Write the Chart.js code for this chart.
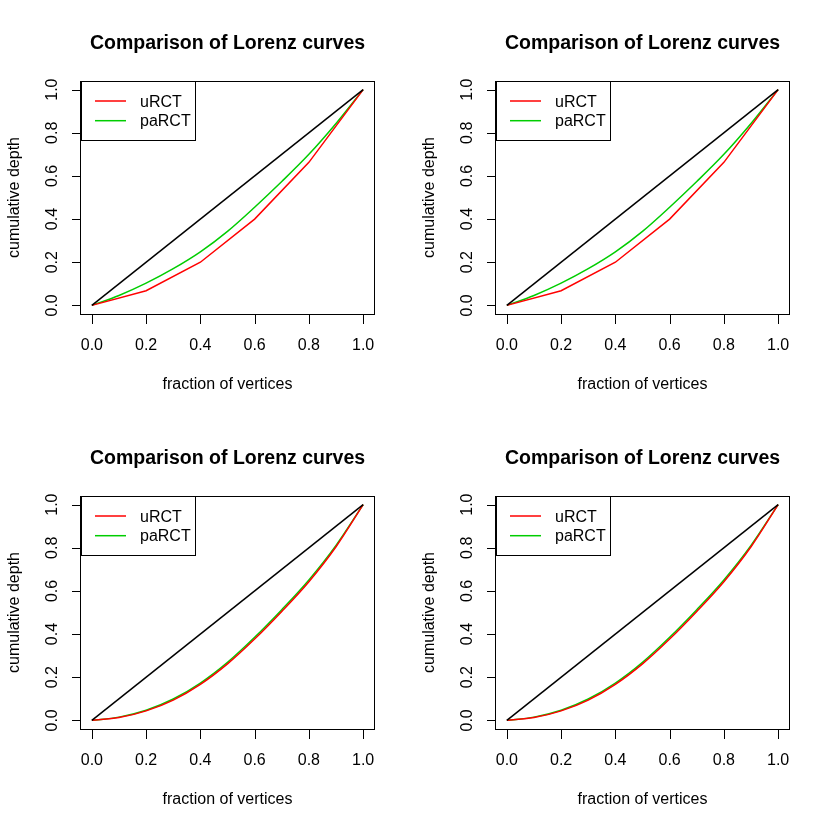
<!DOCTYPE html>
<html>
<head>
<meta charset="utf-8">
<script src="https://cdn.jsdelivr.net/npm/chart.js@4.4.1/dist/chart.umd.min.js"></script>
<style>
  html, body { margin: 0; padding: 0; background: #ffffff; }
  #wrap { position: relative; width: 830px; height: 830px; background: #ffffff; }
  canvas { position: absolute; }
</style>
</head>
<body>
<div id="wrap">
  <canvas id="p1" width="415" height="415" style="left:0px;top:0px"></canvas>
  <canvas id="p2" width="415" height="415" style="left:415px;top:0px"></canvas>
  <canvas id="p3" width="415" height="415" style="left:0px;top:415px"></canvas>
  <canvas id="p4" width="415" height="415" style="left:415px;top:415px"></canvas>
</div>
<script>
// ---- data ----
const chartTitle = "Comparison of Lorenz curves";
const xAxisTitle = "fraction of vertices";
const yAxisTitle = "cumulative depth";
const seriesNames = ["uRCT", "paRCT"];

const xTicks = [0, 0.2, 0.4, 0.6, 0.8, 1.0];
const yTicks = [0, 0.2, 0.4, 0.6, 0.8, 1.0];
const tickLabels = ["0.0", "0.2", "0.4", "0.6", "0.8", "1.0"];

const equalityX = [0, 1];
const equalityY = [0, 1];

// top row panels
const topRedX   = [0, 0.2, 0.4, 0.6, 0.8, 1.0];
const topRedY   = [0, 0.068, 0.200, 0.400, 0.663, 1.0];
const topGreenX = [0, 0.1, 0.2, 0.3, 0.4, 0.5, 0.6, 0.7, 0.8, 0.9, 1.0];
const topGreenY = [0, 0.046, 0.103, 0.170, 0.248, 0.343, 0.455, 0.574, 0.700, 0.843, 1.0];

// bottom row panels
const botX      = [0, 0.1, 0.2, 0.3, 0.4, 0.5, 0.6, 0.7, 0.8, 0.9, 1.0];
const botRedY   = [0, 0.013, 0.044, 0.094, 0.167, 0.262, 0.377, 0.505, 0.643, 0.805, 1.0];
const botGreenY = [0, 0.015, 0.047, 0.099, 0.173, 0.269, 0.385, 0.513, 0.651, 0.811, 1.0];

const RED = "#FF0000";
const GREEN = "#00CD00";
const FONT = '"Liberation Sans", Arial, Helvetica, sans-serif';

function pts(xs, ys) { return xs.map((x, i) => ({ x: x, y: ys[i] })); }

const rDecor = {
  id: "rDecor",
  afterDraw(chart) {
    const ctx = chart.ctx;
    const a = chart.chartArea;
    const xs = chart.scales.x, ys = chart.scales.y;
    ctx.save();
    ctx.fillStyle = "#000";
    ctx.strokeStyle = "#000";
    ctx.lineWidth = 1;

    // legend box (top-left of plot area)
    const lx0 = a.left, ly0 = a.top, lx1 = 195, ly1 = 140;
    ctx.fillStyle = "#fff";
    ctx.fillRect(lx0, ly0, lx1 - lx0, ly1 - ly0);
    ctx.strokeStyle = "#000";
    ctx.strokeRect(lx0 + 0.5, ly0 + 0.5, lx1 - lx0, ly1 - ly0);
    const legendRows = [[seriesNames[0], RED, 101], [seriesNames[1], GREEN, 120.7]];
    ctx.font = "16px " + FONT;
    ctx.textAlign = "left";
    ctx.textBaseline = "alphabetic";
    legendRows.forEach(r => {
      ctx.strokeStyle = r[1];
      ctx.lineWidth = 1.5;
      ctx.beginPath();
      ctx.moveTo(95, r[2]);
      ctx.lineTo(126, r[2]);
      ctx.stroke();
      ctx.fillStyle = "#000";
      ctx.fillText(r[0], 140, r[2] + 5.7);
    });

    // plot box
    ctx.strokeStyle = "#000";
    ctx.lineWidth = 1;
    ctx.strokeRect(Math.round(a.left) - 0.5, Math.round(a.top) + 0.5,
                   Math.round(a.right) - Math.round(a.left) + 1, Math.round(a.bottom) - Math.round(a.top));

    // x ticks + labels
    ctx.font = "16px " + FONT;
    ctx.fillStyle = "#000";
    ctx.textAlign = "center";
    ctx.textBaseline = "alphabetic";
    xTicks.forEach((v, i) => {
      const x = Math.round(xs.getPixelForValue(v)) + 0.5;
      ctx.beginPath();
      ctx.moveTo(x, a.bottom + 1);
      ctx.lineTo(x, a.bottom + 10);
      ctx.stroke();
      ctx.fillText(tickLabels[i], xs.getPixelForValue(v), 350);
    });
    // y ticks + rotated labels
    yTicks.forEach((v, i) => {
      const y = Math.round(ys.getPixelForValue(v)) + 0.5;
      ctx.beginPath();
      ctx.moveTo(a.left - 9, y);
      ctx.lineTo(a.left, y);
      ctx.stroke();
      ctx.save();
      ctx.translate(57.3, ys.getPixelForValue(v));
      ctx.rotate(-Math.PI / 2);
      ctx.fillText(tickLabels[i], 0, 0);
      ctx.restore();
    });

    // axis titles
    ctx.fillText(xAxisTitle, (a.left + a.right) / 2, 389);
    ctx.save();
    ctx.translate(19.3, (a.top + a.bottom) / 2);
    ctx.rotate(-Math.PI / 2);
    ctx.fillText(yAxisTitle, 0, 0);
    ctx.restore();

    // main title
    ctx.font = "bold 19.5px " + FONT;
    ctx.fillText(chartTitle, (a.left + a.right) / 2, 48.5);
    ctx.restore();
  }
};

function makePanel(id, redX, redY, greenX, greenY, redSmooth) {
  new Chart(document.getElementById(id), {
    type: "line",
    data: {
      datasets: [
        { label: "equality", data: pts(equalityX, equalityY), borderColor: "#000", borderWidth: 1.5 },
        { label: seriesNames[0], data: pts(redX, redY), borderColor: RED, borderWidth: 1.5,
          cubicInterpolationMode: redSmooth ? "monotone" : "default", tension: redSmooth ? 0.4 : 0 },
        { label: seriesNames[1], data: pts(greenX, greenY), borderColor: GREEN, borderWidth: 1.5,
          cubicInterpolationMode: "monotone", tension: 0.4 }
      ]
    },
    options: {
      responsive: false,
      devicePixelRatio: 1,
      animation: false,
      elements: { point: { radius: 0 }, line: { tension: 0, fill: false } },
      layout: { padding: { left: 81, top: 81, right: 41, bottom: 101 } },
      scales: {
        x: { type: "linear", display: false, min: -0.04, max: 1.04 },
        y: { type: "linear", display: false, min: -0.04, max: 1.04 }
      },
      plugins: { legend: { display: false }, title: { display: false }, tooltip: { enabled: false } }
    },
    plugins: [rDecor]
  });
}

makePanel("p1", topRedX, topRedY, topGreenX, topGreenY, false);
makePanel("p2", topRedX, topRedY, topGreenX, topGreenY, false);
makePanel("p3", botX, botRedY, botX, botGreenY, true);
makePanel("p4", botX, botRedY, botX, botGreenY, true);
</script>
</body>
</html>
